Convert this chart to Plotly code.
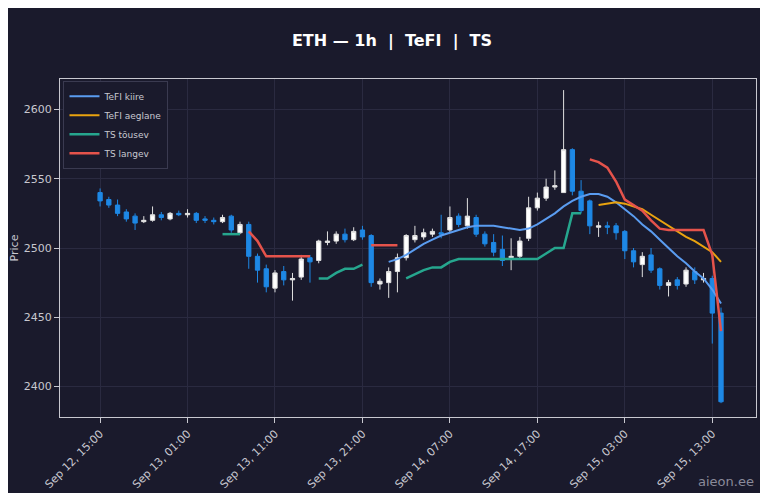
import pandas as pd
import numpy as np
import plotly.graph_objects as go

nan = np.nan
# hourly candles, starting Sep 12 15:00
opens = [2540, 2535, 2531, 2526, 2523, 2519, 2520, 2524, 2521, 2525, 2524, 2525, 2521, 2520, 2519, 2523, 2511, 2517,
         2494, 2485, 2471, 2483, 2477, 2479, 2493, 2491, 2504, 2505, 2510, 2506, 2513, 2509, 2474, 2475,
         2483, 2493, 2506, 2508, 2510, 2511, 2513, 2523, 2516, 2522, 2510, 2504, 2499, 2493, 2494, 2507,
         2529, 2536, 2544, 2540, 2571, 2541, 2534, 2515, 2516, 2516, 2512, 2498, 2488, 2495, 2485, 2473,
         2477, 2474, 2483, 2477, 2478, 2453]
closes = [2534, 2531, 2525, 2521, 2518, 2520, 2524, 2522, 2525, 2524, 2525, 2520, 2520, 2519, 2522, 2513, 2517, 2494,
          2484, 2472, 2482, 2477, 2478, 2492, 2490, 2505, 2505, 2510, 2506, 2512, 2508, 2475, 2476, 2483,
          2493, 2509, 2509, 2511, 2512, 2510, 2522, 2517, 2523, 2510, 2503, 2497, 2491, 2494, 2505, 2529,
          2536, 2544, 2545, 2571, 2541, 2527, 2516, 2516, 2515, 2511, 2498, 2490, 2494, 2484, 2473, 2475,
          2473, 2484, 2477, 2478, 2453, 2389]
highs = [2543, 2537, 2535, 2528, 2525, 2523, 2530, 2526, 2526, 2527, 2528, 2526, 2523, 2522, 2524, 2524, 2519, 2519,
         2496, 2488, 2484, 2487, 2482, 2495, 2495, 2506, 2512, 2512, 2514, 2515, 2516, 2510, 2478, 2486,
         2496, 2510, 2516, 2514, 2514, 2524, 2530, 2525, 2536, 2524, 2512, 2510, 2509, 2507, 2508, 2537,
         2540, 2550, 2556, 2614, 2572, 2549, 2535, 2519, 2519, 2518, 2513, 2500, 2497, 2500, 2486, 2477,
         2479, 2486, 2486, 2482, 2480, 2457]
lows = [2530, 2529, 2523, 2519, 2513, 2518, 2519, 2520, 2520, 2523, 2522, 2518, 2518, 2517, 2518, 2511, 2510, 2485,
        2475, 2468, 2468, 2473, 2462, 2477, 2475, 2489, 2502, 2503, 2504, 2505, 2506, 2472, 2470, 2464,
        2468, 2491, 2504, 2506, 2508, 2507, 2511, 2515, 2514, 2508, 2501, 2494, 2487, 2484, 2492, 2505,
        2527, 2534, 2542, 2540, 2538, 2525, 2510, 2508, 2510, 2506, 2492, 2486, 2479, 2482, 2470, 2465,
        2470, 2472, 2474, 2475, 2431, 2388]

tefi_kiire = [nan] * 33 + [2490, 2492, 2495, 2499, 2503, 2506, 2509, 2511, 2513, 2515, 2516, 2516, 2516, 2515,
                           2514, 2513, 2514, 2517, 2521, 2525, 2530, 2534, 2537, 2539, 2539, 2537, 2533, 2528,
                           2523, 2517, 2512, 2506, 2500, 2494, 2489, 2483, 2478, 2470, 2460]
tefi_aeglane = [nan] * 57 + [2531, 2532, 2533, 2532, 2530, 2528, 2524, 2520, 2516, 2512, 2508, 2505, 2501, 2497, 2490]
ts_tousev = ([nan] * 14 + [2510, 2510, 2510] + [nan] * 8 + [2478, 2478, 2482, 2485, 2485, 2488] + [nan] * 4
             + [2478, 2481, 2484, 2486, 2486, 2490] + [2492] * 10 + [2496, 2500, 2500, 2525, 2525] + [nan] * 16)
ts_langev = ([nan] * 17 + [2512, 2505, 2494, 2494, 2494, 2494, 2494, 2494] + [nan] * 6 + [2502, 2502, 2502, 2502]
             + [nan] * 21 + [2564, 2562, 2558, 2548, 2535, 2531, 2527, 2520, 2514, 2513, 2513, 2513, 2513, 2513, 2495, 2440])

times = pd.date_range("2025-09-12 15:00", periods=len(opens), freq="h")

fig = go.Figure()
fig.add_trace(go.Candlestick(x=times, open=opens, high=highs, low=lows, close=closes,
                             increasing=dict(line=dict(color="#e0e0e0", width=1), fillcolor="#ffffff"),
                             decreasing=dict(line=dict(color="#1e88e5", width=1), fillcolor="#1e88e5"),
                             whiskerwidth=0, showlegend=False))
fig.add_trace(go.Scatter(x=times, y=tefi_kiire, name="TeFI kiire", mode="lines", line=dict(color="#5a9cf0", width=2)))
fig.add_trace(go.Scatter(x=times, y=tefi_aeglane, name="TeFI aeglane", mode="lines", line=dict(color="#e9a30f", width=2)))
fig.add_trace(go.Scatter(x=times, y=ts_tousev, name="TS tõusev", mode="lines", line=dict(color="#26a68e", width=2.5)))
fig.add_trace(go.Scatter(x=times, y=ts_langev, name="TS langev", mode="lines", line=dict(color="#e5534b", width=2.5)))

fig.update_layout(
    width=768, height=493,
    title=dict(text="<b>ETH — 1h  |  TeFI  |  TS</b>", x=0.5, y=0.945, font=dict(size=16, color="#ffffff")),
    paper_bgcolor="#1a1a2c", plot_bgcolor="#1a1a2c",
    font=dict(family="DejaVu Sans", color="#c8c8d0", size=11),
    margin=dict(l=52, r=20, t=71, b=84),
    legend=dict(x=0.005, y=0.995, xanchor="left", yanchor="top", bgcolor="#1a1a2c",
                bordercolor="#3a3a50", borderwidth=1, font=dict(size=9, color="#c8c8d0")),
    xaxis=dict(rangeslider=dict(visible=False), type="date", automargin=False,
               range=["2025-09-12 10:25", "2025-09-15 18:00"],
               tick0="2025-09-12 15:00", dtick=10 * 3600 * 1000, tickformat="%b %d, %H:%M",
               tickangle=-45, gridcolor="#2a2a40", showline=True, linecolor="#c8c8d0", mirror=True,
               ticks="outside", tickcolor="#c8c8d0", zeroline=False),
    yaxis=dict(title=dict(text="Price", font=dict(size=11), standoff=6), range=[2378, 2622], dtick=50,
               automargin=False,
               gridcolor="#2a2a40", showline=True, linecolor="#c8c8d0", mirror=True,
               ticks="outside", tickcolor="#c8c8d0", zeroline=False),
)
fig.add_annotation(text="aieon.ee", xref="paper", yref="paper", x=1.0, y=-0.22, xanchor="right",
                   showarrow=False, font=dict(size=13, color="#8a8a9a"))

fig.write_html("out.html")
